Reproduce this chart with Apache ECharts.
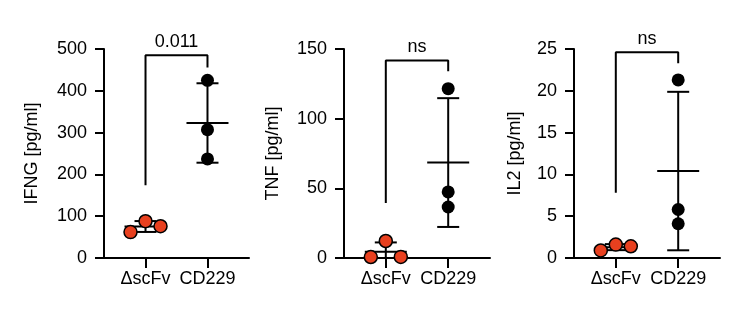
<!DOCTYPE html>
<html><head><meta charset="utf-8">
<script src="https://cdn.jsdelivr.net/npm/echarts@6/dist/echarts.min.js"></script>
<style>html,body{margin:0;padding:0;background:#fff}#c{width:742px;height:334px}</style>
</head><body><div id="c"></div>
<script>
// ---- data ----
const groups = ['ΔscFv', 'CD229'];
const axisTitles = ['IFNG [pg/ml]', 'TNF [pg/ml]', 'IL2 [pg/ml]'];
const yMax = [500, 150, 25];
const yStep = [100, 50, 5];
const ifngScFv = [62, 88, 76];
const ifngCD229 = [425, 307, 237];
const tnfScFv = [0.7, 12.2, 0.8];
const tnfCD229 = [121.5, 47.4, 36.6];
const il2ScFv = [0.9, 1.6, 1.4];
const il2CD229 = [21.3, 5.8, 4.1];
const pLabels = ['0.011', 'ns', 'ns'];
const bracketIFNG = [174, 485, 456];
const bracketTNF = [39.5, 141.8, 134];
const bracketIL2 = [7.8, 24.6, 23.3];

// ---- styles ----
const jitterPx = [-15, 0, 15];
const FONT = "'Liberation Sans', Arial, Helvetica, sans-serif";
const FS = 18;
const INK = '#000';
const RED = '#e8401f';
const grids = [
  {left: 104, top: 49, width: 145, height: 209},
  {left: 344, top: 49, width: 146, height: 209},
  {left: 574, top: 49, width: 146, height: 209}
];
const nameGaps = [63, 62, 50];

const scFv = [ifngScFv, tnfScFv, il2ScFv];
const cd229 = [ifngCD229, tnfCD229, il2CD229];
const brackets = [bracketIFNG, bracketTNF, bracketIL2];

function mean(a) { return a.reduce((s, v) => s + v, 0) / a.length; }
function sd(a) { const m = mean(a); return Math.sqrt(a.reduce((s, v) => s + (v - m) * (v - m), 0) / (a.length - 1)); }

function renderErr(params, api) {
  const x = api.value(0), m = api.value(1), s = api.value(2);
  const c = api.coord([x, m]);
  const hi = api.coord([x, m + s]);
  const lo = api.coord([x, m - s]);
  const style = {stroke: '#000', lineWidth: 2};
  return {type: 'group', children: [
    {type: 'line', shape: {x1: c[0], y1: hi[1], x2: c[0], y2: lo[1]}, style},
    {type: 'line', shape: {x1: c[0] - 11, y1: hi[1], x2: c[0] + 11, y2: hi[1]}, style},
    {type: 'line', shape: {x1: c[0] - 11, y1: lo[1], x2: c[0] + 11, y2: lo[1]}, style},
    {type: 'line', shape: {x1: c[0] - 21, y1: c[1], x2: c[0] + 21, y2: c[1]}, style}
  ]};
}

const xAxis = [], yAxis = [], series = [];
for (let i = 0; i < 3; i++) {
  xAxis.push({
    type: 'value', gridIndex: i, min: -0.67, max: 1.67,
    axisLine: {show: true, onZero: false, lineStyle: {color: '#000', width: 2}},
    axisTick: {show: true, customValues: [0, 1], length: 10, lineStyle: {color: '#000', width: 2}},
    axisLabel: {customValues: [0, 1], formatter: v => groups[Math.round(v)], color: INK, fontSize: FS, fontFamily: FONT, margin: 12},
    splitLine: {show: false}
  });
  yAxis.push({
    type: 'value', gridIndex: i, min: 0, max: yMax[i], interval: yStep[i],
    name: axisTitles[i], nameLocation: 'middle', nameGap: nameGaps[i],
    nameTextStyle: {color: INK, fontSize: FS, fontFamily: FONT},
    axisLine: {show: true, onZero: false, lineStyle: {color: '#000', width: 2}},
    axisTick: {show: true, length: 9, lineStyle: {color: '#000', width: 2}},
    axisLabel: {color: INK, fontSize: FS, fontFamily: FONT, margin: 17},
    splitLine: {show: false}
  });
  series.push({
    type: 'custom', xAxisIndex: i, yAxisIndex: i, clip: true, silent: true,
    renderItem: renderErr,
    encode: {x: 0, y: 1},
    data: [[0, mean(scFv[i]), sd(scFv[i])], [1, mean(cd229[i]), sd(cd229[i])]],
    z: 2
  });
  const b = brackets[i];
  series.push({
    type: 'line', xAxisIndex: i, yAxisIndex: i, symbol: 'none', silent: true,
    lineStyle: {color: '#000', width: 2},
    data: [[0, b[0]], [0, b[1]], [1, b[1]], [1, b[2]]],
    z: 2
  });
  series.push({
    type: 'scatter', xAxisIndex: i, yAxisIndex: i, symbolSize: 0, silent: true,
    itemStyle: {opacity: 1},
    label: {show: true, position: 'top', distance: 4, formatter: pLabels[i], color: INK, fontSize: FS, fontFamily: FONT, opacity: 1},
    data: [[0.5, b[1]]],
    z: 3
  });
  series.push({
    type: 'scatter', xAxisIndex: i, yAxisIndex: i, symbolSize: 13, silent: true,
    itemStyle: {color: RED, borderColor: '#000', borderWidth: 1.5, opacity: 1},
    data: scFv[i].map((v, j) => ({value: [0, v], symbolOffset: [jitterPx[j], 0]})),
    z: 4
  });
  series.push({
    type: 'scatter', xAxisIndex: i, yAxisIndex: i, symbolSize: 13, silent: true,
    itemStyle: {color: '#000', opacity: 1},
    data: cd229[i].map(v => [1, v]),
    z: 4
  });
}

const chart = echarts.init(document.getElementById('c'), null, {renderer: 'canvas'});
chart.setOption({
  animation: false,
  backgroundColor: '#fff',
  textStyle: {fontFamily: FONT},
  grid: grids,
  xAxis, yAxis, series
});
</script>
</body></html>
